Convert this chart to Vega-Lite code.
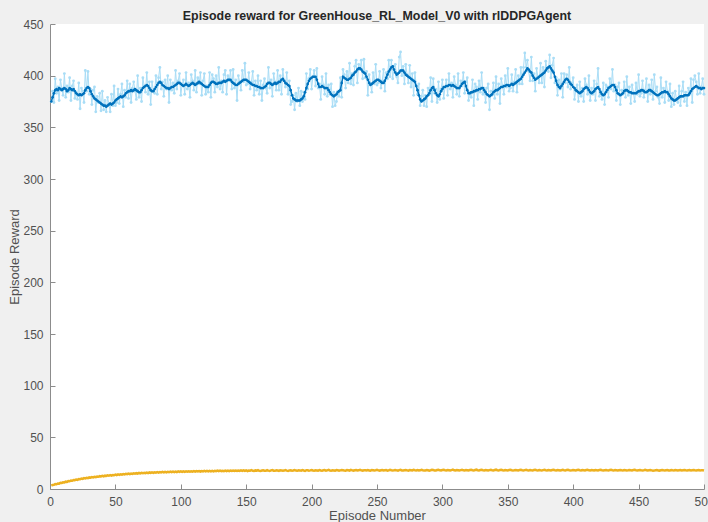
{
  "$schema": "https://vega.github.io/schema/vega-lite/v6.json",
  "width": 654,
  "height": 465,
  "autosize": {"type": "none"},
  "padding": {"left": 50, "top": 24, "right": 4, "bottom": 33},
  "background": "#f0f0f0",
  "title": {
    "text": "Episode reward for GreenHouse_RL_Model_V0 with rlDDPGAgent",
    "font": "Liberation Sans",
    "fontSize": 12.4,
    "fontWeight": "bold",
    "color": "#262626",
    "frame": "group",
    "offset": -4
  },
  "config": {
    "view": {"fill": "white", "stroke": null},
    "axis": {
      "grid": false,
      "domainColor": "#8c8c8c",
      "tickColor": "#8c8c8c",
      "labelColor": "#505050",
      "titleColor": "#505050",
      "labelFont": "Liberation Sans",
      "titleFont": "Liberation Sans",
      "labelFontSize": 12,
      "titleFontSize": 13,
      "titleFontWeight": "normal",
      "tickSize": -5,
      "labelPadding": 12
    }
  },
  "data": {
    "values": [
      {"e":1,"r":375,"a":375,"q":3.2},{"e":2,"r":385,"a":379,"q":3.9},{"e":3,"r":374,"a":383,"q":4.0},{"e":4,"r":397,"a":386,"q":4.7},{"e":5,"r":383,"a":387,"q":4.6},
      {"e":6,"r":389,"a":386,"q":5.3},{"e":7,"r":376,"a":388,"q":5.2},{"e":8,"r":396,"a":387,"q":6.0},{"e":9,"r":388,"a":386,"q":5.9},{"e":10,"r":381,"a":387,"q":6.5},
      {"e":11,"r":402,"a":388,"q":6.4},{"e":12,"r":379,"a":387,"q":7.1},{"e":13,"r":390,"a":385,"q":6.9},{"e":14,"r":384,"a":386,"q":7.6},{"e":15,"r":398,"a":388,"q":7.5},
      {"e":16,"r":376,"a":387,"q":8.2},{"e":17,"r":390,"a":386,"q":8.0},{"e":18,"r":395,"a":387,"q":8.7},{"e":19,"r":378,"a":385,"q":8.5},{"e":20,"r":384,"a":383,"q":9.2},
      {"e":21,"r":377,"a":382,"q":8.9},{"e":22,"r":393,"a":381,"q":9.6},{"e":23,"r":368,"a":382,"q":9.4},{"e":24,"r":388,"a":381,"q":10.1},{"e":25,"r":385,"a":382,"q":9.8},
      {"e":26,"r":374,"a":383,"q":10.5},{"e":27,"r":405,"a":386,"q":10.2},{"e":28,"r":385,"a":388,"q":10.8},{"e":29,"r":404,"a":389,"q":10.5},{"e":30,"r":382,"a":388,"q":11.2},
      {"e":31,"r":387,"a":385,"q":10.9},{"e":32,"r":372,"a":382,"q":11.5},{"e":33,"r":386,"a":380,"q":11.2},{"e":34,"r":389,"a":378,"q":11.8},{"e":35,"r":365,"a":377,"q":11.5},
      {"e":36,"r":380,"a":376,"q":12.1},{"e":37,"r":374,"a":375,"q":11.8},{"e":38,"r":383,"a":374,"q":12.4},{"e":39,"r":366,"a":373,"q":12.1},{"e":40,"r":385,"a":372,"q":12.7},
      {"e":41,"r":367,"a":371,"q":12.3},{"e":42,"r":376,"a":371,"q":12.9},{"e":43,"r":365,"a":370,"q":12.6},{"e":44,"r":379,"a":371,"q":13.2},{"e":45,"r":373,"a":372,"q":12.8},
      {"e":46,"r":365,"a":373,"q":13.4},{"e":47,"r":382,"a":372,"q":13.0},{"e":48,"r":371,"a":373,"q":13.6},{"e":49,"r":390,"a":374,"q":13.3},{"e":50,"r":371,"a":376,"q":13.9},
      {"e":51,"r":374,"a":377,"q":13.5},{"e":52,"r":387,"a":378,"q":14.1},{"e":53,"r":373,"a":379,"q":13.7},{"e":54,"r":382,"a":380,"q":14.3},{"e":55,"r":392,"a":379,"q":13.9},
      {"e":56,"r":370,"a":380,"q":14.5},{"e":57,"r":386,"a":381,"q":14.1},{"e":58,"r":379,"a":383,"q":14.7},{"e":59,"r":395,"a":384,"q":14.3},{"e":60,"r":378,"a":385,"q":14.9},
      {"e":61,"r":392,"a":385,"q":14.4},{"e":62,"r":374,"a":386,"q":15.0},{"e":63,"r":388,"a":385,"q":14.6},{"e":64,"r":394,"a":386,"q":15.2},{"e":65,"r":385,"a":387,"q":14.8},
      {"e":66,"r":377,"a":386,"q":15.3},{"e":67,"r":400,"a":385,"q":14.9},{"e":68,"r":379,"a":384,"q":15.5},{"e":69,"r":388,"a":384,"q":15.0},{"e":70,"r":375,"a":386,"q":15.6},
      {"e":71,"r":398,"a":388,"q":15.2},{"e":72,"r":390,"a":389,"q":15.7},{"e":73,"r":384,"a":390,"q":15.3},{"e":74,"r":403,"a":391,"q":15.9},{"e":75,"r":382,"a":390,"q":15.4},
      {"e":76,"r":394,"a":388,"q":16.0},{"e":77,"r":372,"a":386,"q":15.5},{"e":78,"r":394,"a":385,"q":16.1},{"e":79,"r":385,"a":385,"q":15.6},{"e":80,"r":383,"a":387,"q":16.2},
      {"e":81,"r":400,"a":389,"q":15.8},{"e":82,"r":382,"a":391,"q":16.3},{"e":83,"r":398,"a":393,"q":15.9},{"e":84,"r":408,"a":394,"q":16.4},{"e":85,"r":387,"a":393,"q":16.0},
      {"e":86,"r":394,"a":391,"q":16.5},{"e":87,"r":380,"a":390,"q":16.0},{"e":88,"r":396,"a":389,"q":16.6},{"e":89,"r":387,"a":388,"q":16.1},{"e":90,"r":400,"a":388,"q":16.7},
      {"e":91,"r":374,"a":387,"q":16.2},{"e":92,"r":396,"a":388,"q":16.8},{"e":93,"r":386,"a":389,"q":16.3},{"e":94,"r":393,"a":389,"q":16.8},{"e":95,"r":383,"a":390,"q":16.4},
      {"e":96,"r":405,"a":391,"q":16.9},{"e":97,"r":387,"a":392,"q":16.4},{"e":98,"r":395,"a":393,"q":17.0},{"e":99,"r":402,"a":393,"q":16.5},{"e":100,"r":381,"a":392,"q":17.0},
      {"e":101,"r":391,"a":391,"q":16.5},{"e":102,"r":396,"a":390,"q":17.1},{"e":103,"r":382,"a":391,"q":16.6},{"e":104,"r":403,"a":392,"q":17.1},{"e":105,"r":387,"a":391,"q":16.7},
      {"e":106,"r":393,"a":390,"q":17.2},{"e":107,"r":379,"a":391,"q":16.7},{"e":108,"r":401,"a":392,"q":17.2},{"e":109,"r":395,"a":393,"q":16.8},{"e":110,"r":386,"a":392,"q":17.3},
      {"e":111,"r":405,"a":391,"q":16.8},{"e":112,"r":384,"a":392,"q":17.3},{"e":113,"r":398,"a":393,"q":16.9},{"e":114,"r":392,"a":394,"q":17.4},{"e":115,"r":403,"a":393,"q":16.9},
      {"e":116,"r":381,"a":392,"q":17.4},{"e":117,"r":395,"a":391,"q":17.0},{"e":118,"r":402,"a":390,"q":17.5},{"e":119,"r":382,"a":389,"q":17.0},{"e":120,"r":390,"a":389,"q":17.5},
      {"e":121,"r":384,"a":389,"q":17.0},{"e":122,"r":403,"a":391,"q":17.6},{"e":123,"r":379,"a":393,"q":17.1},{"e":124,"r":401,"a":394,"q":17.6},{"e":125,"r":397,"a":394,"q":17.1},
      {"e":126,"r":384,"a":393,"q":17.6},{"e":127,"r":400,"a":392,"q":17.2},{"e":128,"r":389,"a":392,"q":17.7},{"e":129,"r":408,"a":393,"q":17.2},{"e":130,"r":387,"a":393,"q":17.7},
      {"e":131,"r":395,"a":393,"q":17.2},{"e":132,"r":384,"a":394,"q":17.7},{"e":133,"r":401,"a":395,"q":17.3},{"e":134,"r":405,"a":394,"q":17.8},{"e":135,"r":382,"a":395,"q":17.3},
      {"e":136,"r":400,"a":396,"q":17.8},{"e":137,"r":395,"a":396,"q":17.3},{"e":138,"r":405,"a":396,"q":17.8},{"e":139,"r":387,"a":394,"q":17.4},{"e":140,"r":406,"a":393,"q":17.9},
      {"e":141,"r":388,"a":392,"q":17.4},{"e":142,"r":396,"a":391,"q":17.9},{"e":143,"r":376,"a":391,"q":17.4},{"e":144,"r":400,"a":392,"q":17.9},{"e":145,"r":394,"a":393,"q":17.5},
      {"e":146,"r":386,"a":394,"q":18.0},{"e":147,"r":405,"a":395,"q":17.5},{"e":148,"r":394,"a":396,"q":18.0},{"e":149,"r":412,"a":396,"q":17.5},{"e":150,"r":391,"a":396,"q":18.0},
      {"e":151,"r":392,"a":395,"q":17.4},{"e":152,"r":403,"a":394,"q":17.9},{"e":153,"r":387,"a":393,"q":17.7},{"e":154,"r":394,"a":392,"q":18.2},{"e":155,"r":404,"a":391,"q":17.6},
      {"e":156,"r":381,"a":391,"q":17.5},{"e":157,"r":395,"a":390,"q":18.0},{"e":158,"r":386,"a":390,"q":17.8},{"e":159,"r":400,"a":389,"q":18.3},{"e":160,"r":382,"a":389,"q":17.6},
      {"e":161,"r":395,"a":388,"q":17.5},{"e":162,"r":376,"a":388,"q":17.9},{"e":163,"r":391,"a":388,"q":18.1},{"e":164,"r":397,"a":389,"q":17.7},{"e":165,"r":388,"a":390,"q":17.6},
      {"e":166,"r":383,"a":392,"q":18.2},{"e":167,"r":408,"a":393,"q":17.8},{"e":168,"r":388,"a":393,"q":17.5},{"e":169,"r":396,"a":392,"q":18.0},{"e":170,"r":380,"a":391,"q":18.3},
      {"e":171,"r":402,"a":392,"q":17.7},{"e":172,"r":394,"a":393,"q":17.6},{"e":173,"r":386,"a":392,"q":18.1},{"e":174,"r":405,"a":393,"q":17.9},{"e":175,"r":386,"a":394,"q":17.5},
      {"e":176,"r":400,"a":394,"q":18.2},{"e":177,"r":382,"a":396,"q":18.0},{"e":178,"r":406,"a":397,"q":17.6},{"e":179,"r":395,"a":395,"q":17.8},{"e":180,"r":389,"a":393,"q":18.3},
      {"e":181,"r":403,"a":392,"q":17.8},{"e":182,"r":382,"a":391,"q":17.5},{"e":183,"r":395,"a":390,"q":18.0},{"e":184,"r":372,"a":386,"q":18.2},{"e":185,"r":375,"a":381,"q":17.7},
      {"e":186,"r":381,"a":378,"q":17.9},{"e":187,"r":367,"a":377,"q":18.4},{"e":188,"r":383,"a":376,"q":17.8},{"e":189,"r":375,"a":376,"q":17.6},{"e":190,"r":388,"a":376,"q":18.1},
      {"e":191,"r":371,"a":376,"q":18.0},{"e":192,"r":385,"a":377,"q":17.7},{"e":193,"r":375,"a":378,"q":18.3},{"e":194,"r":384,"a":380,"q":17.9},{"e":195,"r":377,"a":384,"q":17.6},
      {"e":196,"r":402,"a":388,"q":18.2},{"e":197,"r":387,"a":392,"q":18.1},{"e":198,"r":397,"a":395,"q":17.7},{"e":199,"r":406,"a":397,"q":18.0},{"e":200,"r":387,"a":398,"q":18.4},
      {"e":201,"r":399,"a":399,"q":17.9},{"e":202,"r":405,"a":399,"q":17.7},{"e":203,"r":390,"a":399,"q":18.2},{"e":204,"r":407,"a":396,"q":18.0},{"e":205,"r":388,"a":392,"q":17.8},
      {"e":206,"r":392,"a":389,"q":18.4},{"e":207,"r":377,"a":389,"q":17.9},{"e":208,"r":399,"a":390,"q":17.7},{"e":209,"r":391,"a":389,"q":18.1},{"e":210,"r":382,"a":388,"q":18.3},
      {"e":211,"r":402,"a":388,"q":17.8},{"e":212,"r":380,"a":388,"q":18.0},{"e":213,"r":391,"a":386,"q":18.5},{"e":214,"r":382,"a":384,"q":17.9},{"e":215,"r":392,"a":382,"q":17.7},
      {"e":216,"r":370,"a":381,"q":18.2},{"e":217,"r":384,"a":380,"q":18.0},{"e":218,"r":371,"a":381,"q":17.8},{"e":219,"r":375,"a":382,"q":18.3},{"e":220,"r":385,"a":384,"q":18.1},
      {"e":221,"r":380,"a":385,"q":17.8},{"e":222,"r":398,"a":386,"q":18.0},{"e":223,"r":379,"a":393,"q":18.4},{"e":224,"r":406,"a":399,"q":18.2},{"e":225,"r":401,"a":398,"q":17.9},
      {"e":226,"r":388,"a":397,"q":17.7},{"e":227,"r":404,"a":396,"q":18.3},{"e":228,"r":393,"a":396,"q":18.1},{"e":229,"r":412,"a":397,"q":17.8},{"e":230,"r":392,"a":398,"q":18.5},
      {"e":231,"r":402,"a":400,"q":18.0},{"e":232,"r":391,"a":401,"q":17.8},{"e":233,"r":409,"a":403,"q":18.2},{"e":234,"r":415,"a":404,"q":18.4},{"e":235,"r":393,"a":406,"q":17.9},
      {"e":236,"r":411,"a":407,"q":18.1},{"e":237,"r":406,"a":407,"q":18.6},{"e":238,"r":415,"a":406,"q":18.0},{"e":239,"r":397,"a":404,"q":17.8},{"e":240,"r":416,"a":403,"q":18.2},
      {"e":241,"r":398,"a":402,"q":18.1},{"e":242,"r":404,"a":399,"q":17.9},{"e":243,"r":381,"a":396,"q":18.3},{"e":244,"r":401,"a":393,"q":18.0},{"e":245,"r":392,"a":391,"q":17.8},
      {"e":246,"r":384,"a":392,"q":18.4},{"e":247,"r":403,"a":393,"q":18.2},{"e":248,"r":392,"a":394,"q":17.9},{"e":249,"r":411,"a":395,"q":18.1},{"e":250,"r":391,"a":396,"q":18.5},
      {"e":251,"r":393,"a":396,"q":18.0},{"e":252,"r":404,"a":395,"q":17.8},{"e":253,"r":388,"a":394,"q":18.2},{"e":254,"r":395,"a":393,"q":18.4},{"e":255,"r":406,"a":393,"q":17.9},
      {"e":256,"r":385,"a":395,"q":18.1},{"e":257,"r":403,"a":398,"q":18.3},{"e":258,"r":397,"a":401,"q":17.8},{"e":259,"r":415,"a":404,"q":18.0},{"e":260,"r":399,"a":406,"q":18.6},
      {"e":261,"r":415,"a":408,"q":18.2},{"e":262,"r":397,"a":409,"q":17.9},{"e":263,"r":409,"a":406,"q":18.1},{"e":264,"r":411,"a":403,"q":18.4},{"e":265,"r":399,"a":401,"q":18.0},
      {"e":266,"r":393,"a":402,"q":17.8},{"e":267,"r":418,"a":403,"q":18.3},{"e":268,"r":423,"a":405,"q":18.5},{"e":269,"r":400,"a":405,"q":18.0},{"e":270,"r":409,"a":405,"q":17.9},
      {"e":271,"r":392,"a":403,"q":18.2},{"e":272,"r":411,"a":401,"q":18.4},{"e":273,"r":401,"a":400,"q":18.0},{"e":274,"r":393,"a":399,"q":17.8},{"e":275,"r":410,"a":398,"q":18.3},
      {"e":276,"r":389,"a":397,"q":18.1},{"e":277,"r":402,"a":396,"q":17.9},{"e":278,"r":381,"a":395,"q":18.5},{"e":279,"r":403,"a":394,"q":18.2},{"e":280,"r":390,"a":390,"q":18.0},
      {"e":281,"r":382,"a":386,"q":18.3},{"e":282,"r":392,"a":381,"q":17.9},{"e":283,"r":371,"a":377,"q":18.1},{"e":284,"r":380,"a":375,"q":18.6},{"e":285,"r":386,"a":376,"q":18.2},
      {"e":286,"r":371,"a":377,"q":17.9},{"e":287,"r":381,"a":378,"q":18.0},{"e":288,"r":370,"a":380,"q":18.4},{"e":289,"r":388,"a":381,"q":18.2},{"e":290,"r":382,"a":383,"q":17.8},
      {"e":291,"r":398,"a":386,"q":18.1},{"e":292,"r":375,"a":388,"q":18.5},{"e":293,"r":397,"a":389,"q":18.3},{"e":294,"r":383,"a":386,"q":18.0},{"e":295,"r":387,"a":383,"q":17.9},
      {"e":296,"r":374,"a":381,"q":18.4},{"e":297,"r":394,"a":380,"q":18.6},{"e":298,"r":377,"a":382,"q":18.1},{"e":299,"r":387,"a":385,"q":17.9},{"e":300,"r":396,"a":387,"q":18.3},
      {"e":301,"r":378,"a":389,"q":18.5},{"e":302,"r":389,"a":389,"q":18.1},{"e":303,"r":396,"a":390,"q":18.0},{"e":304,"r":381,"a":390,"q":18.4},{"e":305,"r":402,"a":391,"q":18.2},
      {"e":306,"r":387,"a":391,"q":17.9},{"e":307,"r":393,"a":390,"q":18.3},{"e":308,"r":379,"a":391,"q":18.7},{"e":309,"r":399,"a":390,"q":18.1},{"e":310,"r":391,"a":389,"q":18.0},
      {"e":311,"r":382,"a":388,"q":18.4},{"e":312,"r":402,"a":388,"q":18.2},{"e":313,"r":380,"a":388,"q":17.9},{"e":314,"r":395,"a":390,"q":18.3},{"e":315,"r":390,"a":392,"q":18.6},
      {"e":316,"r":403,"a":393,"q":18.1},{"e":317,"r":383,"a":394,"q":18.0},{"e":318,"r":394,"a":390,"q":18.4},{"e":319,"r":398,"a":386,"q":18.2},{"e":320,"r":376,"a":383,"q":17.9},
      {"e":321,"r":384,"a":383,"q":18.3},{"e":322,"r":379,"a":384,"q":18.5},{"e":323,"r":396,"a":384,"q":18.1},{"e":324,"r":371,"a":385,"q":18.0},{"e":325,"r":392,"a":385,"q":18.4},
      {"e":326,"r":389,"a":386,"q":18.7},{"e":327,"r":377,"a":386,"q":18.2},{"e":328,"r":395,"a":387,"q":17.9},{"e":329,"r":384,"a":387,"q":18.3},{"e":330,"r":403,"a":388,"q":18.5},
      {"e":331,"r":382,"a":388,"q":18.1},{"e":332,"r":388,"a":386,"q":18.0},{"e":333,"r":374,"a":384,"q":18.4},{"e":334,"r":388,"a":382,"q":18.2},{"e":335,"r":392,"a":381,"q":17.9},
      {"e":336,"r":367,"a":380,"q":18.3},{"e":337,"r":385,"a":381,"q":18.6},{"e":338,"r":381,"a":382,"q":18.2},{"e":339,"r":393,"a":384,"q":18.0},{"e":340,"r":378,"a":385,"q":18.4},
      {"e":341,"r":399,"a":386,"q":18.7},{"e":342,"r":382,"a":386,"q":18.2},{"e":343,"r":392,"a":387,"q":18.0},{"e":344,"r":373,"a":388,"q":18.3},{"e":345,"r":397,"a":389,"q":18.5},
      {"e":346,"r":390,"a":389,"q":18.1},{"e":347,"r":382,"a":390,"q":17.9},{"e":348,"r":400,"a":390,"q":18.4},{"e":349,"r":389,"a":391,"q":18.2},{"e":350,"r":407,"a":391,"q":18.0},
      {"e":351,"r":385,"a":390,"q":18.3},{"e":352,"r":388,"a":391,"q":18.6},{"e":353,"r":401,"a":392,"q":18.2},{"e":354,"r":385,"a":391,"q":17.9},{"e":355,"r":394,"a":392,"q":18.1},
      {"e":356,"r":406,"a":393,"q":18.4},{"e":357,"r":384,"a":394,"q":18.2},{"e":358,"r":400,"a":395,"q":18.0},{"e":359,"r":392,"a":396,"q":18.3},{"e":360,"r":408,"a":397,"q":18.5},
      {"e":361,"r":392,"a":399,"q":18.1},{"e":362,"r":408,"a":401,"q":17.9},{"e":363,"r":422,"a":403,"q":18.3},{"e":364,"r":408,"a":405,"q":18.6},{"e":365,"r":415,"a":407,"q":18.2},
      {"e":366,"r":404,"a":406,"q":18.0},{"e":367,"r":395,"a":404,"q":18.4},{"e":368,"r":418,"a":403,"q":18.1},{"e":369,"r":395,"a":400,"q":17.9},{"e":370,"r":402,"a":398,"q":18.3},
      {"e":371,"r":385,"a":396,"q":18.5},{"e":372,"r":407,"a":397,"q":18.2},{"e":373,"r":399,"a":398,"q":18.0},{"e":374,"r":393,"a":399,"q":18.4},{"e":375,"r":412,"a":400,"q":18.1},
      {"e":376,"r":393,"a":401,"q":17.9},{"e":377,"r":408,"a":402,"q":18.3},{"e":378,"r":389,"a":403,"q":18.6},{"e":379,"r":414,"a":405,"q":18.2},{"e":380,"r":407,"a":407,"q":18.0},
      {"e":381,"r":404,"a":408,"q":18.4},{"e":382,"r":420,"a":409,"q":18.2},{"e":383,"r":398,"a":407,"q":17.9},{"e":384,"r":410,"a":405,"q":18.3},{"e":385,"r":417,"a":403,"q":18.5},
      {"e":386,"r":393,"a":399,"q":18.1},{"e":387,"r":398,"a":395,"q":18.0},{"e":388,"r":381,"a":391,"q":18.4},{"e":389,"r":396,"a":389,"q":18.2},{"e":390,"r":387,"a":388,"q":17.9},
      {"e":391,"r":402,"a":390,"q":18.2},{"e":392,"r":379,"a":392,"q":18.5},{"e":393,"r":402,"a":394,"q":18.1},{"e":394,"r":393,"a":396,"q":18.0},{"e":395,"r":401,"a":397,"q":18.3},
      {"e":396,"r":389,"a":396,"q":18.6},{"e":397,"r":408,"a":394,"q":18.2},{"e":398,"r":387,"a":392,"q":17.9},{"e":399,"r":393,"a":391,"q":18.1},{"e":400,"r":398,"a":389,"q":18.4},
      {"e":401,"r":377,"a":388,"q":18.2},{"e":402,"r":386,"a":386,"q":18.0},{"e":403,"r":391,"a":385,"q":18.3},{"e":404,"r":375,"a":384,"q":18.5},{"e":405,"r":394,"a":383,"q":18.1},
      {"e":406,"r":380,"a":384,"q":17.9},{"e":407,"r":388,"a":385,"q":18.3},{"e":408,"r":375,"a":387,"q":18.2},{"e":409,"r":397,"a":388,"q":18.0},{"e":410,"r":391,"a":389,"q":18.4},
      {"e":411,"r":382,"a":388,"q":18.6},{"e":412,"r":400,"a":386,"q":18.1},{"e":413,"r":376,"a":384,"q":18.0},{"e":414,"r":388,"a":383,"q":18.3},{"e":415,"r":382,"a":384,"q":18.2},
      {"e":416,"r":395,"a":385,"q":17.9},{"e":417,"r":376,"a":387,"q":18.4},{"e":418,"r":392,"a":388,"q":18.2},{"e":419,"r":407,"a":389,"q":18.0},{"e":420,"r":380,"a":387,"q":18.3},
      {"e":421,"r":385,"a":384,"q":18.5},{"e":422,"r":377,"a":382,"q":18.1},{"e":423,"r":393,"a":381,"q":17.9},{"e":424,"r":372,"a":382,"q":18.2},{"e":425,"r":391,"a":384,"q":18.4},
      {"e":426,"r":389,"a":386,"q":18.1},{"e":427,"r":379,"a":388,"q":18.0},{"e":428,"r":397,"a":389,"q":18.3},{"e":429,"r":387,"a":390,"q":18.6},{"e":430,"r":406,"a":391,"q":18.2},
      {"e":431,"r":385,"a":391,"q":18.0},{"e":432,"r":391,"a":389,"q":18.3},{"e":433,"r":376,"a":386,"q":18.1},{"e":434,"r":389,"a":383,"q":17.9},{"e":435,"r":393,"a":382,"q":18.2},
      {"e":436,"r":372,"a":381,"q":18.4},{"e":437,"r":386,"a":382,"q":18.1},{"e":438,"r":382,"a":383,"q":18.0},{"e":439,"r":394,"a":385,"q":18.3},{"e":440,"r":379,"a":386,"q":18.2},
      {"e":441,"r":399,"a":386,"q":17.9},{"e":442,"r":381,"a":385,"q":18.1},{"e":443,"r":389,"a":384,"q":18.4},{"e":444,"r":373,"a":384,"q":18.2},{"e":445,"r":391,"a":383,"q":18.0},
      {"e":446,"r":384,"a":383,"q":18.3},{"e":447,"r":375,"a":383,"q":18.5},{"e":448,"r":393,"a":383,"q":18.1},{"e":449,"r":382,"a":384,"q":17.9},{"e":450,"r":401,"a":385,"q":18.2},
      {"e":451,"r":380,"a":385,"q":18.4},{"e":452,"r":383,"a":386,"q":18.1},{"e":453,"r":395,"a":386,"q":18.0},{"e":454,"r":379,"a":385,"q":18.2},{"e":455,"r":386,"a":384,"q":18.5},
      {"e":456,"r":397,"a":384,"q":18.2},{"e":457,"r":375,"a":385,"q":17.9},{"e":458,"r":391,"a":386,"q":18.1},{"e":459,"r":382,"a":386,"q":18.3},{"e":460,"r":396,"a":385,"q":18.0},
      {"e":461,"r":377,"a":384,"q":17.7},{"e":462,"r":401,"a":383,"q":17.8},{"e":463,"r":385,"a":382,"q":18.1},{"e":464,"r":389,"a":381,"q":18.3},{"e":465,"r":379,"a":381,"q":18.0},
      {"e":466,"r":373,"a":382,"q":17.8},{"e":467,"r":398,"a":383,"q":18.2},{"e":468,"r":379,"a":384,"q":18.4},{"e":469,"r":388,"a":384,"q":18.1},{"e":470,"r":374,"a":385,"q":17.9},
      {"e":471,"r":394,"a":384,"q":18.2},{"e":472,"r":385,"a":384,"q":18.4},{"e":473,"r":376,"a":382,"q":18.0},{"e":474,"r":392,"a":380,"q":17.9},{"e":475,"r":370,"a":378,"q":18.3},
      {"e":476,"r":383,"a":377,"q":18.1},{"e":477,"r":372,"a":376,"q":18.0},{"e":478,"r":385,"a":376,"q":18.4},{"e":479,"r":377,"a":377,"q":18.2},{"e":480,"r":374,"a":378,"q":17.9},
      {"e":481,"r":390,"a":379,"q":18.1},{"e":482,"r":371,"a":380,"q":18.3},{"e":483,"r":385,"a":380,"q":18.0},{"e":484,"r":394,"a":380,"q":18.2},{"e":485,"r":375,"a":381,"q":18.4},
      {"e":486,"r":384,"a":381,"q":18.1},{"e":487,"r":371,"a":381,"q":17.9},{"e":488,"r":388,"a":381,"q":18.2},{"e":489,"r":382,"a":383,"q":18.3},{"e":490,"r":397,"a":385,"q":18.0},
      {"e":491,"r":374,"a":387,"q":18.2},{"e":492,"r":396,"a":388,"q":18.4},{"e":493,"r":400,"a":389,"q":18.1},{"e":494,"r":394,"a":390,"q":17.9},{"e":495,"r":382,"a":389,"q":18.2},
      {"e":496,"r":402,"a":388,"q":18.3},{"e":497,"r":383,"a":388,"q":18.0},{"e":498,"r":389,"a":387,"q":18.1},{"e":499,"r":397,"a":388,"q":18.2},{"e":500,"r":382,"a":388,"q":17.9}
    ]
  },
  "encoding": {
    "x": {
      "field": "e",
      "type": "quantitative",
      "scale": {"domain": [0, 500], "nice": false},
      "axis": {
        "title": "Episode Number",
        "values": [0, 50, 100, 150, 200, 250, 300, 350, 400, 450, 500],
        "labelFlush": false,
        "labelOverlap": false,
        "titlePadding": 2
      }
    }
  },
  "layer": [
    {
      "mark": {
        "type": "line",
        "color": "#a9ddf6",
        "strokeWidth": 1,
        "point": {"filled": true, "size": 8, "color": "#a9ddf6"}
      },
      "encoding": {
        "y": {
          "field": "r",
          "type": "quantitative",
          "scale": {"domain": [0, 450], "nice": false},
          "axis": {
            "title": "Episode Reward",
            "values": [0, 50, 100, 150, 200, 250, 300, 350, 400, 450],
            "titlePadding": 1
          }
        }
      }
    },
    {
      "mark": {
        "type": "line",
        "color": "#0072BD",
        "strokeWidth": 1.5,
        "point": {"filled": true, "size": 7, "color": "#0072BD"}
      },
      "encoding": {
        "y": {"field": "a", "type": "quantitative", "title": "Episode Reward"}
      }
    },
    {
      "mark": {"type": "line", "color": "#EDB120", "strokeWidth": 2.5},
      "encoding": {
        "y": {"field": "q", "type": "quantitative", "title": "Episode Reward"}
      }
    }
  ]
}
